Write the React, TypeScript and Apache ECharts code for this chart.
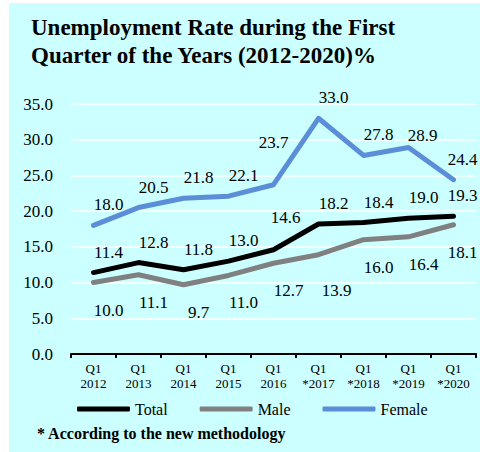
import React, { useEffect, useRef } from "react";
import * as echarts from "echarts";

const categories = ["Q1\n2012", "Q1\n2013", "Q1\n2014", "Q1\n2015", "Q1\n2016", "Q1\n*2017", "Q1\n*2018", "Q1\n*2019", "Q1\n*2020"];
const totalValues = [11.4, 12.8, 11.8, 13.0, 14.6, 18.2, 18.4, 19.0, 19.3];
const maleValues = [10.0, 11.1, 9.7, 11.0, 12.7, 13.9, 16.0, 16.4, 18.1];
const femaleValues = [18.0, 20.5, 21.8, 22.1, 23.7, 33.0, 27.8, 28.9, 24.4];
const yTicks = [0, 5, 10, 15, 20, 25, 30, 35];

const titleText = "Unemployment Rate during the First\nQuarter of the Years (2012-2020)%";
const footnote = "* According to the new methodology";

const FONT = "'Liberation Serif', 'Times New Roman', serif";

// label nudges (styling only)
const nudges: Record<string, Record<number, number[]>> = {
  Total: { 4: [12, -12], 8: [9, 0] },
  Male: { 5: [18, 8], 8: [9, 0] },
  Female: { 4: [0, -22], 7: [14, 8], 8: [9, 0] },
};

function buildData(name: string, values: number[]) {
  return values.map((v, i) => {
    const n = nudges[name] && nudges[name][i];
    return n ? { value: v, label: { offset: n } } : { value: v };
  });
}

export default function App() {
  const ref = useRef<HTMLDivElement>(null);
  useEffect(() => {
    if (!ref.current) return;
    const chart = echarts.init(ref.current, null, { renderer: "svg" });
    const labelBase = {
      show: true,
      fontFamily: FONT,
      fontSize: 17,
      color: "#000",
      formatter: (p: any) => Number(p.value).toFixed(1),
    };
    const mk = (name: string, values: number[], color: string, pos: "top" | "bottom", dist: number) => ({
      name,
      type: "line",
      data: buildData(name, values),
      symbol: "circle",
      symbolSize: 1,
      showSymbol: true,
      itemStyle: { color },
      lineStyle: { color, width: 5, join: "round", cap: "round" },
      label: { ...labelBase, position: pos, distance: dist, offset: [15, 0] },
      emphasis: { disabled: true },
    });
    chart.setOption({
      animation: false,
      backgroundColor: "transparent",
      textStyle: { fontFamily: FONT },
      graphic: [
        { type: "rect", z: -10, silent: true, shape: { x: 9, y: 3, width: 471, height: 449 }, style: { fill: "#CCFFFF" } },
        {
          type: "text",
          left: 37,
          top: 425,
          style: { text: footnote, font: `bold 16px ${FONT}`, fill: "#000" },
        },
      ],
      title: {
        text: titleText,
        left: 26,
        top: 8,
        textStyle: { fontFamily: FONT, fontSize: 23, fontWeight: "bold", color: "#000", lineHeight: 28 },
      },
      legend: {
        left: 72,
        top: 396,
        icon: "roundRect",
        itemWidth: 53,
        itemHeight: 5,
        itemGap: 32,
        textStyle: { fontFamily: FONT, fontSize: 16, color: "#000" },
        data: ["Total", "Male", "Female"],
      },
      grid: { left: 71, right: 4, top: 104, bottom: 98, containLabel: false },
      xAxis: {
        type: "category",
        data: categories,
        boundaryGap: true,
        axisLine: { lineStyle: { color: "#000", width: 2 } },
        axisTick: { show: true, length: 4, lineStyle: { color: "#000", width: 2 } },
        axisLabel: { fontFamily: FONT, fontSize: 13, color: "#000", lineHeight: 15, margin: 7, interval: 0 },
      },
      yAxis: {
        type: "value",
        min: yTicks[0],
        max: yTicks[yTicks.length - 1],
        interval: 5,
        axisLine: { show: false },
        axisTick: { show: false },
        splitLine: { lineStyle: { color: "#ffffff", width: 1.5 } },
        axisLabel: { fontFamily: FONT, fontSize: 17, color: "#000", margin: 18, formatter: (v: number) => v.toFixed(1) },
      },
      series: [
        mk("Total", totalValues, "#000000", "top", 11.5),
        mk("Male", maleValues, "#808080", "bottom", 18.5),
        mk("Female", femaleValues, "#5B8ED6", "top", 11.5),
      ],
    });
    return () => chart.dispose();
  }, []);
  return <div ref={ref} style={{ position: "absolute", left: 0, top: 0, width: 480, height: 452 }} />;
}
